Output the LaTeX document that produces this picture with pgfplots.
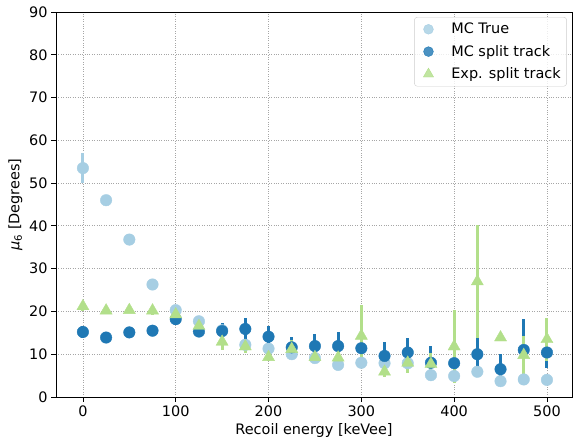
\documentclass[border=0pt]{standalone}
\usepackage{pgfplots}
\usepackage{pgfplotstable}
\pgfplotsset{compat=1.18}
\usepackage{fontspec}
\setmainfont{DejaVu Sans}
\usetikzlibrary{calc}
\definecolor{lblue}{HTML}{A6CEE3}
\definecolor{dblue}{HTML}{1F78B4}
\definecolor{lgreen}{HTML}{B2DF8A}

\pgfplotsset{myleg/.style={legend image code/.code={\path (-0.1cm,0cm) (0.98cm,0cm); \draw[##1, mark options={scale=0.85}] plot coordinates {(0.25cm,0cm)};}}}

\pgfplotstableread{
x y e
0 53.5 3.5
25 46.0 0.5
50 36.8 0.7
75 26.3 0.5
100 20.3 0.5
125 17.7 0.5
150 15.6 0.6
175 12.2 0.6
200 11.3 0.6
225 10.0 0.6
250 9.1 0.5
275 7.5 0.6
300 8.0 0.6
325 7.9 0.6
350 7.9 0.7
375 5.1 0.7
400 4.9 0.6
425 5.9 0.7
450 3.7 0.6
475 4.1 0.6
500 4.0 0.5
}\mctrue

\pgfplotstableread{
x y e
0 15.2 1.3
25 13.9 0.6
50 15.1 0.8
75 15.5 1.0
100 18.2 1.3
125 15.3 1.2
150 15.4 1.8
175 15.9 2.5
200 14.1 2.6
225 11.6 2.4
250 11.9 2.8
275 11.9 3.2
300 11.4 3.0
325 9.6 3.3
350 10.4 3.5
375 8.0 4.0
400 7.9 3.0
425 10.0 4.2
450 6.5 3.5
475 11.0 7.2
500 10.4 3.6
}\mcsplit

\pgfplotstableread{
x y e
0 21.2 1.0
25 20.2 0.5
50 20.3 0.5
75 20.2 1.0
100 19.3 1.6
125 16.6 2.0
150 12.9 2.0
175 11.8 1.5
200 9.3 1.0
225 11.2 2.2
250 9.3 1.0
275 9.2 2.5
300 14.3 7.2
325 5.9 1.2
350 8.0 2.5
375 7.7 2.5
400 11.8 8.6
425 27.0 13.2
450 13.9 0
475 9.8 4.5
500 13.5 5.0
}\expsplit

\begin{document}
\begin{tikzpicture}
\begin{axis}[
  scale only axis,
  width=516bp, height=385bp,
  xmin=-29, xmax=527, ymin=0, ymax=90,
  xtick={0,100,...,500}, ytick={0,10,...,90},
  xtick pos=bottom, ytick pos=left,
  tick align=outside,
  major tick length=4.9bp,
  tick style={black, line width=0.8pt},
  axis line style={black, line width=0.8pt},
  grid=major,
  grid style={dotted, gray!70, line width=0.8pt},
  /pgf/number format/assume math mode=true,
  tick label style={font=\fontsize{14.5}{17}\selectfont},
  label style={font=\fontsize{14.5}{17}\selectfont},
  xlabel={Recoil energy [keVee]},
  ylabel={{\itshape μ}\textsubscript{6} [Degrees]},
  legend style={at={(rel axis cs:0.99,0.987)}, anchor=north east,
    draw=gray!40, rounded corners=3pt, fill=white, fill opacity=0.8, text opacity=1,
    font=\fontsize{14.5}{17}\selectfont, row sep=6bp, inner sep=4pt},
  legend cell align=left,
]
\addplot[only marks, myleg, mark=*, mark size=5.8pt, color=lblue, mark options={draw=lblue, fill=lblue},
  error bars/.cd, y dir=both, y explicit, error mark=none,
  error bar style={line width=3bp, lblue}]
  table[x=x, y=y, y error=e] {\mctrue};
\addlegendentry{MC True}
\addplot[only marks, myleg, mark=*, mark size=5.8pt, color=dblue, mark options={draw=dblue, fill=dblue},
  error bars/.cd, y dir=both, y explicit, error mark=none,
  error bar style={line width=3bp, dblue}]
  table[x=x, y=y, y error=e] {\mcsplit};
\addlegendentry{MC split track}
\addplot[only marks, myleg, mark=triangle*, mark size=7pt, color=lgreen, mark options={draw=lgreen, fill=lgreen},
  error bars/.cd, y dir=both, y explicit, error mark=none,
  error bar style={line width=3bp, lgreen}]
  table[x=x, y=y, y error=e] {\expsplit};
\addlegendentry{Exp. split track}
\end{axis}
\pgfresetboundingbox
\path[use as bounding box] ($(current axis.south west)+(-56bp,-48bp)$) rectangle ($(current axis.north east)+(2bp,12bp)$);
\end{tikzpicture}
\end{document}
